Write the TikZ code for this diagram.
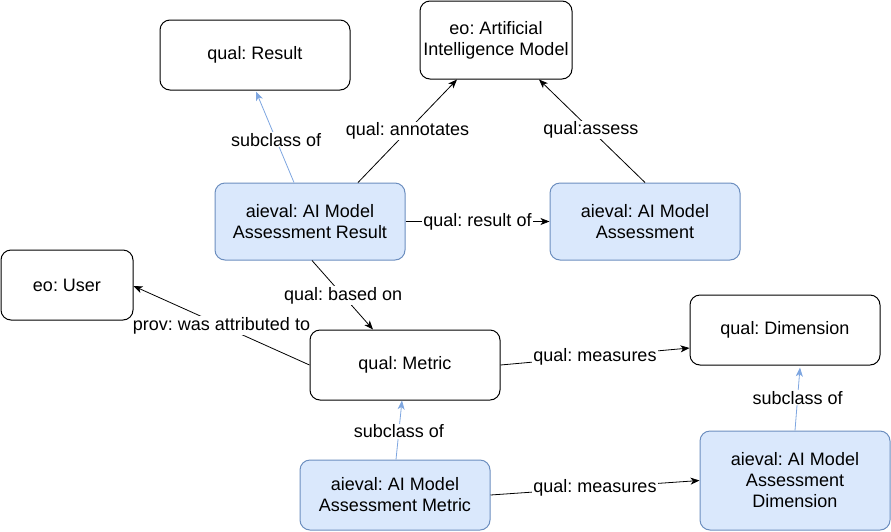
\documentclass[tikz,border=0pt]{standalone}
\usepackage{fontspec}
\setmainfont{Liberation Sans}
\frenchspacing
\usetikzlibrary{arrows.meta}
\definecolor{bfill}{HTML}{DAE8FC}
\definecolor{bdraw}{HTML}{6C8EBF}
\definecolor{sline}{HTML}{7EA6E0}
\begin{document}
\begin{tikzpicture}[x=1pt,y=-1pt,
  box/.style={draw=black,line width=1pt,rounded corners=10pt,fill=white,align=center,
    minimum width=190pt,minimum height=70pt,inner sep=2pt,font=\fontsize{18}{21}\selectfont},
  bluebox/.style={box,draw=bdraw,fill=bfill},
  rel/.style={draw=black,line width=0.8pt,-{Stealth[length=9pt,width=7pt,inset=2.5pt]}},
  sub/.style={draw=sline,line width=0.8pt,-{Stealth[length=9pt,width=7pt,inset=2.5pt]}},
  lbl/.style={fill=white,inner sep=1pt,font=\fontsize{18}{21}\selectfont}]
\useasboundingbox (0,0) rectangle (891,531);
\node[box] (result) at (255,55) {qual: Result};
\node[box,minimum width=152pt,minimum height=78pt] (aim) at (496,40) {eo: Artificial\\Intelligence Model};
\node[bluebox,minimum height=77pt] (ares) at (310,221.5) {aieval: AI Model\\Assessment Result};
\node[bluebox,minimum height=77pt] (ass) at (645,221.5) {aieval: AI Model\\Assessment};
\node[box,minimum width=132pt] (user) at (67,285) {eo: User};
\node[box] (metric) at (405,365) {qual: Metric};
\node[box] (dim) at (785,330) {qual: Dimension};
\node[bluebox] (amm) at (395,495) {aieval: AI Model\\Assessment Metric};
\node[bluebox,minimum height=99pt] (amd) at (795,480.5) {aieval: AI Model\\Assessment\\Dimension};

\draw[sub] ([xshift=-16pt]ares.north) -- ([xshift=1pt,yshift=-1pt]result.south) node[lbl,pos=0.47] {subclass of};
\draw[rel] ([xshift=48pt]ares.north) -- ([xshift=-39pt]aim.south) node[lbl,pos=0.5] {qual: annotates};
\draw[rel] (ass.north) -- ([xshift=43pt]aim.south) node[lbl,pos=0.51] {qual:assess};
\draw[rel] (ares.east) -- (ass.west) node[lbl,pos=0.5] {qual: result of};
\draw[rel] ([xshift=2pt]ares.south) -- ([xshift=-32pt]metric.north) node[lbl,pos=0.51] {qual: based on};
\draw[rel] (metric.west) -- ([yshift=-1pt]user.east) node[lbl,pos=0.5] {prov: was attributed to};
\draw[sub] ([xshift=1pt]amm.north) -- ([xshift=-3pt]metric.south) node[lbl,pos=0.48] {subclass of};
\draw[rel] (metric.east) -- ([yshift=-18pt]dim.west) node[lbl,pos=0.5] {qual: measures};
\draw[rel] (amm.east) -- (amd.west) node[lbl,pos=0.5] {qual: measures};
\draw[sub] (amd.north) -- ([xshift=15pt,yshift=-2pt]dim.south) node[lbl,pos=0.52] {subclass of};
\end{tikzpicture}
\end{document}
